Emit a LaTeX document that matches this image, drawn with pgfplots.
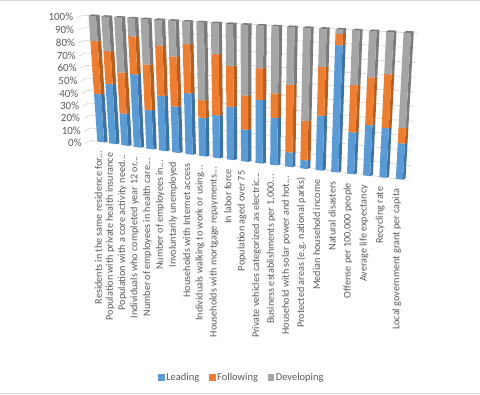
\documentclass[border=0pt]{standalone}
\usepackage{pgfplots}
\usepackage{pgfplotstable}
\usepackage{fontspec}
\setmainfont{Carlito}
\pgfplotsset{compat=1.18}
\definecolor{cblue}{HTML}{5B9BD5}\definecolor{corange}{HTML}{ED7D31}\definecolor{cgray}{HTML}{A5A5A5}
\definecolor{sblue}{HTML}{3E72A3}\definecolor{sorange}{HTML}{B55E22}\definecolor{sgray}{HTML}{7A7A7A}
\definecolor{txt}{HTML}{595959}\definecolor{grd}{HTML}{D9D9D9}
% u, Leading, Following, Developing (percent shares)
\pgfplotstableread{
u lead foll dev
0 38 42 20
1 47 26 27
2 25 32 43
3 56.6 29.4 14
4 30 35 35
5 42 38.5 19.5
6 35 37.8 27.2
7 46 37 17
8 28.6 13.2 58.2
9 31.7 45.3 23
10 39 30 31
11 23.4 24.9 51.7
12 46 23 31
13 34 17.6 48.4
14 10.4 48.4 41.2
15 6 28 66
16 38.6 34.4 27
17 89 8 3
18 29 32.9 38.1
19 35 33 32
20 34 37 29
21 24.5 10.5 65
}\datatable
\newcommand\mapxy[4]{%
\pgfmathsetmacro#3{(1-(#2)/100)*(97+11.83*(#1)+.115*(#1)*(#1))+((#2)/100)*(88.3+12.55*(#1)+.118*(#1)*(#1))}%
\pgfmathsetmacro#4{-((1-(#2)/100)*(141.7+1.79*(#1))+((#2)/100)*(15.7+.81*(#1)))}}
\newcommand\widths[1]{\pgfmathsetmacro\uu{#1}\pgfmathsetmacro\ur{#1+.58-.0075*#1}\pgfmathsetmacro\us{\ur+.29-.0065*#1}\pgfmathsetmacro\ul{#1+.29-.0065*#1}}
\newcommand\seg[5]{%
\widths{#1}%
\pgfmathsetmacro\lo{#2}\pgfmathsetmacro\hi{#3}\pgfmathsetmacro\los{#2+1.2}\pgfmathsetmacro\his{#3+1.2}%
\mapxy{\uu}{\lo}\xa\ya\mapxy{\ur}{\lo}\xb\yb\mapxy{\ur}{\hi}\xc\yc\mapxy{\uu}{\hi}\xd\yd
\mapxy{\us}{\los}\xe\ye\mapxy{\us}{\his}\xf\yf\mapxy{\ul}{\his}\xg\yg
\edef\cmd{\noexpand\addplot[fill=#5,draw=none,forget plot] coordinates {(\xb,\yb)(\xe,\ye)(\xf,\yf)(\xc,\yc)};
\noexpand\addplot[fill=#4,draw=none,forget plot] coordinates {(\xa,\ya)(\xb,\yb)(\xc,\yc)(\xd,\yd)};}\cmd}
\newcommand\topface[2]{%
\widths{#1}%
\mapxy{\uu}{100}\xa\ya\mapxy{\ur}{100}\xb\yb\mapxy{\us}{101.2}\xc\yc\mapxy{\ul}{101.2}\xd\yd
\edef\cmd{\noexpand\addplot[fill=#2,draw=none,forget plot] coordinates {(\xa,\ya)(\xb,\yb)(\xc,\yc)(\xd,\yd)};}\cmd}
\newcommand\grid[1]{\mapxy{-.5}{#1}\xa\ya\mapxy{21.8}{#1}\xb\yb
\pgfmathsetmacro\xs{\xa-6}\pgfmathsetmacro\ys{\ya-3}%
\edef\cmd{\noexpand\addplot[grd,line width=.7pt,forget plot] coordinates {(\xs,\ys)(\xa,\ya)(\xb,\yb)};}\cmd}
\newcommand\catlabel[2]{\mapxy{#1}{0}\xa\ya\pgfmathsetmacro\xa{\xa+1}\pgfmathsetmacro\ya{\ya-9.5}%
\edef\cmd{\noexpand\node[rotate=90,anchor=east,inner sep=0pt,font=\noexpand\fontsize{10.2}{12}\noexpand\selectfont,text=txt] at (axis cs:\xa,\ya) {\unexpanded{#2}};}\cmd}
\newcommand\ylab[3]{\node[anchor=east,inner sep=0pt,font=\fontsize{11}{12}\selectfont,text=txt] at (axis cs:#1,-#2) {#3\%};}
\begin{document}
\begin{tikzpicture}
\begin{axis}[x=1pt,y=1pt,xmin=0,xmax=480,ymin=-395,ymax=0,hide axis,clip=false,
  legend style={at={(axis cs:242,-378)},anchor=center,draw=none,fill=none,legend columns=3,
    font=\fontsize{10.5}{12}\selectfont,text=txt,/tikz/every even column/.append style={column sep=8pt},inner sep=0pt},
  legend image code/.code={\fill[#1] (0pt,-2.7pt) rectangle (5.5pt,2.8pt);}]
\addlegendimage{cblue}\addlegendentry{Leading}
\addlegendimage{corange}\addlegendentry{Following}
\addlegendimage{cgray}\addlegendentry{Developing}
\path (axis cs:0,-395) rectangle (axis cs:480,0);
\draw[grd,line width=1pt] (axis cs:0,-394.5) -- (axis cs:480,-394.5);
\draw[grd,line width=1pt] (axis cs:0,-0.5) -- (axis cs:480,-0.5);
\foreach \g in {0,10,...,100}{\grid{\g}}
\pgfplotstablegetrowsof{\datatable}\pgfmathtruncatemacro\nr{\pgfplotsretval-1}
\pgfplotsforeachungrouped \r in {0,...,\nr}{%
 \pgfplotstablegetelem{\r}{lead}\of\datatable\let\va\pgfplotsretval
 \pgfplotstablegetelem{\r}{foll}\of\datatable\let\vb\pgfplotsretval
 \pgfplotstablegetelem{\r}{dev}\of\datatable\let\vc\pgfplotsretval
 \pgfmathsetmacro\ca{\va}\pgfmathsetmacro\cb{\va+\vb}
 \seg{\r}{0}{\ca}{cblue}{sblue}
 \seg{\r}{\ca}{\cb}{corange}{sorange}
 \seg{\r}{\cb}{100}{cgray}{sgray}
 \topface{\r}{sgray}
}
\ylab{81.5}{142.7}{0}\ylab{80.7}{130.7}{10}\ylab{79.8}{118.3}{20}\ylab{79}{106}{30}\ylab{78.2}{94}{40}
\ylab{77.3}{81}{50}\ylab{76.5}{68.3}{60}\ylab{75.6}{56}{70}\ylab{74.8}{43.3}{80}\ylab{73.9}{30}{90}\ylab{73}{17.3}{100}
\catlabel{0}{Residents in the same residence for...}
\catlabel{1}{Population with private health insurance}
\catlabel{2}{Population with a core activity need...}
\catlabel{3}{Individuals who completed year 12 or...}
\catlabel{4}{Number of employees in health care...}
\catlabel{5}{Number of employees in...}
\catlabel{6}{Involuntarily unemployed}
\catlabel{7}{Households with Internet access}
\catlabel{8}{Individuals walking to work or using...}
\catlabel{9}{Households with mortgage repayments...}
\catlabel{10}{In labor force}
\catlabel{11}{Population aged over 75}
\catlabel{12}{Private vehicles categorized as electric...}
\catlabel{13}{Business establishments per 1,000...}
\catlabel{14}{Household with solar power and hot...}
\catlabel{15}{Protected areas (e.g. national parks)}
\catlabel{16}{Median household income}
\catlabel{17}{Natural disasters}
\catlabel{18}{Offense per 100,000 people}
\catlabel{19}{Average life expectancy}
\catlabel{20}{Recycling rate}
\catlabel{21}{Local government grant per capita}
\end{axis}
\end{tikzpicture}
\end{document}
